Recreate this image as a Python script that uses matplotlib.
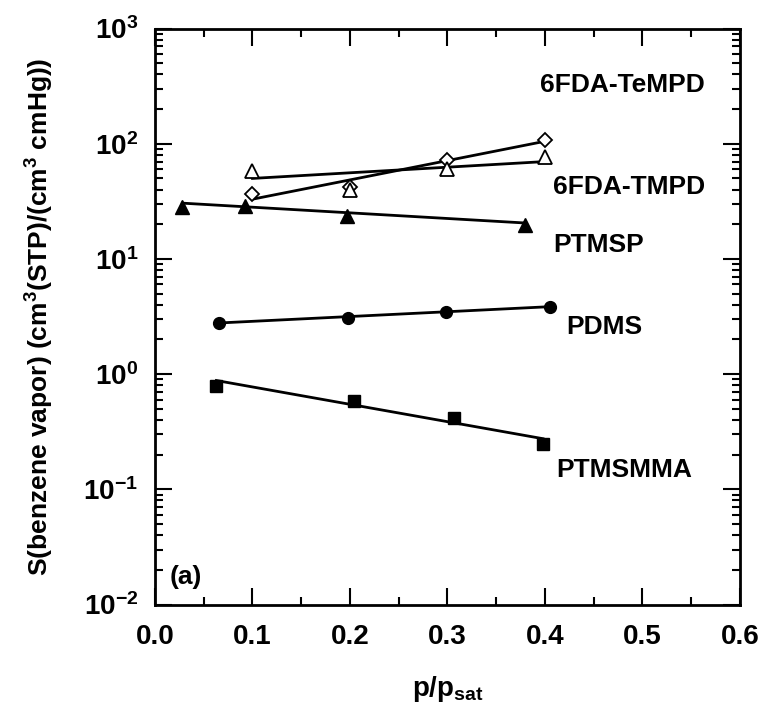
import matplotlib
matplotlib.use("Agg")
import matplotlib.pyplot as plt
from matplotlib.ticker import LogLocator, MultipleLocator, NullFormatter, FormatStrFormatter
import numpy as np

plt.rcParams['font.family'] = ['Liberation Sans', 'DejaVu Sans']
plt.rcParams['font.weight'] = 'bold'
plt.rcParams['mathtext.fontset'] = 'custom'
plt.rcParams['mathtext.rm'] = 'Liberation Sans:bold'
plt.rcParams['mathtext.bf'] = 'Liberation Sans:bold'
plt.rcParams['mathtext.it'] = 'Liberation Sans:bold'
plt.rcParams['mathtext.default'] = 'bf'

# ---- data ----
tempd_x = [0.10, 0.20, 0.30, 0.40]
tempd_y = [36.5, 42.0, 72.0, 108.0]
tempd_fit_x = [0.10, 0.40]
tempd_fit_y = [33.0, 105.0]

tmpd_x = [0.10, 0.20, 0.30, 0.40]
tmpd_y = [58.0, 40.0, 60.0, 77.0]
tmpd_fit_x = [0.10, 0.40]
tmpd_fit_y = [50.0, 70.0]

ptmsp_x = [0.028, 0.092, 0.197, 0.380]
ptmsp_y = [28.5, 28.8, 23.6, 19.7]
ptmsp_fit_x = [0.028, 0.380]
ptmsp_fit_y = [30.5, 20.5]

pdms_x = [0.066, 0.198, 0.298, 0.405]
pdms_y = [2.78, 3.10, 3.47, 3.81]
pdms_fit_x = [0.066, 0.405]
pdms_fit_y = [2.78, 3.85]

ptmsmma_x = [0.063, 0.204, 0.307, 0.398]
ptmsmma_y = [0.79, 0.59, 0.415, 0.247]
ptmsmma_fit_x = [0.063, 0.398]
ptmsmma_fit_y = [0.88, 0.275]

labels = ['6FDA-TeMPD', '6FDA-TMPD', 'PTMSP', 'PDMS', 'PTMSMMA']
label_x = [0.395, 0.408, 0.408, 0.422, 0.412]
label_y = [324.0, 42.4, 13.2, 2.57, 0.147]

fig = plt.figure(figsize=(7.66, 7.17), dpi=100)
ax = fig.add_axes([0.2023, 0.1569, 0.7637, 0.8033])

lw = 2.0
ax.plot(tempd_fit_x, tempd_fit_y, color='black', lw=lw)
ax.plot(tmpd_fit_x, tmpd_fit_y, color='black', lw=lw)
ax.plot(ptmsp_fit_x, ptmsp_fit_y, color='black', lw=lw)
ax.plot(pdms_fit_x, pdms_fit_y, color='black', lw=lw)
ax.plot(ptmsmma_fit_x, ptmsmma_fit_y, color='black', lw=lw)

ax.plot(tempd_x, tempd_y, 'D', ms=7.5, mfc='white', mec='black', mew=1.3, ls='none')
ax.plot(tmpd_x, tmpd_y, '^', ms=10, mfc='white', mec='black', mew=1.3, ls='none')
ax.plot(ptmsp_x, ptmsp_y, '^', ms=10, color='black', ls='none')
ax.plot(pdms_x, pdms_y, 'o', ms=8.5, color='black', ls='none')
ax.plot(ptmsmma_x, ptmsmma_y, 's', ms=8.5, color='black', ls='none')

for t, x, y in zip(labels, label_x, label_y):
    ax.text(x, y, t, fontsize=19, fontweight='bold', ha='left', va='center')

ax.text(0.0154, 0.0174, '(a)', fontsize=19, fontweight='bold', ha='left', va='center')

ax.set_yscale('log')
ax.set_xlim(0.0, 0.6)
ax.set_ylim(1e-2, 1e3)
ax.xaxis.set_major_locator(MultipleLocator(0.1))
ax.xaxis.set_minor_locator(MultipleLocator(0.05))
ax.xaxis.set_major_formatter(FormatStrFormatter('%.1f'))
ax.yaxis.set_major_locator(LogLocator(base=10, numticks=10))
ax.yaxis.set_minor_locator(LogLocator(base=10, subs=np.arange(2, 10), numticks=20))
ax.yaxis.set_minor_formatter(NullFormatter())

ax.tick_params(which='both', direction='in', top=True, right=True, width=1.5)
ax.tick_params(which='major', length=12, labelsize=20)
ax.tick_params(axis='x', which='major', pad=14)
ax.tick_params(axis='y', which='major', pad=12)
ax.tick_params(which='minor', length=6)
for lab in ax.get_xticklabels() + ax.get_yticklabels():
    lab.set_fontweight('bold')
for s in ax.spines.values():
    s.set_linewidth(2)

ax.set_xlabel(r'p/p$_{sat}$', fontsize=20, fontweight='bold', labelpad=17)
ax.set_ylabel('S(benzene vapor) (cm$^3$(STP)/(cm$^3$ cmHg))', fontsize=19,
              fontweight='bold', labelpad=20)

fig.savefig('out.png', dpi=100)
